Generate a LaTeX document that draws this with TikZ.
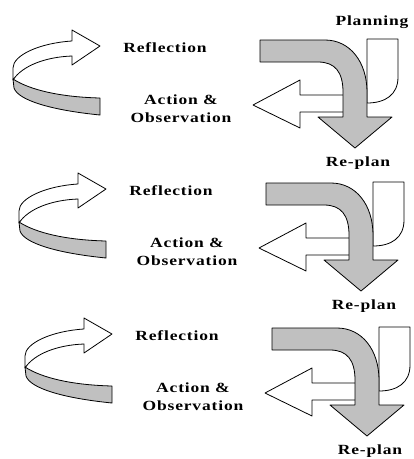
\documentclass[tikz,border=0pt]{standalone}
\usepackage{fontspec}
\newfontfamily\cyclefont[LetterSpace=6,FakeStretch=1.25]{Liberation Serif}
\definecolor{cyclegrey}{RGB}{192,192,192}
\tikzset{
	lbl/.style={font=\cyclefont\bfseries\fontsize{14}{18}\selectfont, inner sep=1pt, align=center},
	flat/.style={draw=black, line width=0.8pt, line join=round, fill=white},
	band/.style={flat, fill=cyclegrey}
}

\begin{document}
\begin{tikzpicture}[x=1pt, y=-1pt]
	\useasboundingbox (0,0) rectangle (414,459);
	\foreach \i/\dx/\dy in {1/0/0, 2/6/143, 3/12/288} {
	\begin{scope}[shift={(\dx,\dy)}]
		% left loop
		\draw[flat] (13,80) .. controls (22,66) and (45,57) .. (72,56) -- (72,65) -- (100,46) -- (72,30) -- (72,41) .. controls (40,43) and (13,55) .. (13,68) -- cycle;
		\draw[band] (13,79) .. controls (30,90) and (60,97) .. (100,98) -- (100,115) .. controls (50,110) and (18,100) .. (14,88) -- cycle;
		% right side
		\draw[flat] (367,39) -- (398,39) -- (398,77) .. controls (398,95) and (385,103) .. (367,103) -- cycle;
		\draw[flat] (345,95) -- (300,95) -- (300,80) -- (253,105) -- (300,128) -- (300,112) -- (345,112) -- cycle;
		\draw[band] (260,40) -- (325,40) .. controls (350,40) and (367,62) .. (367,92) -- (367,117) -- (392,117) -- (355,148) -- (318,117) -- (343,117) -- (343,92) .. controls (343,72) and (335,62) .. (318,62) -- (260,62) -- cycle;
		\node[lbl] (refl\i) at (165,48) {Reflection};
		\node[lbl] (act\i) at (181,109) {Action \&\\Observation};
		\node[lbl] (replan\i) at (358,163) {Re-plan};
	\end{scope}
	}
	\node[lbl] (plan) at (372,22) {Planning};
\end{tikzpicture}
\end{document}
